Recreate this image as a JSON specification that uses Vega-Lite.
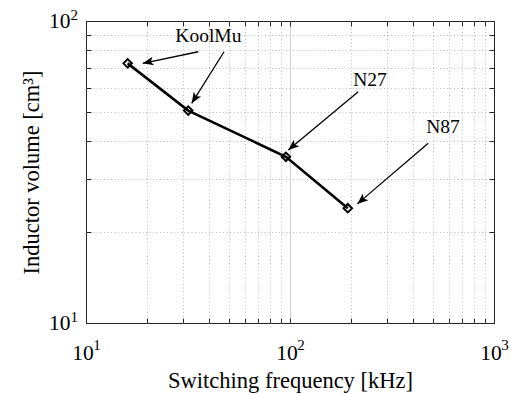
{
  "$schema": "https://vega.github.io/schema/vega-lite/v6.json",
  "width": 408,
  "height": 302,
  "autosize": "none",
  "padding": {"left": 86, "top": 21, "right": 19, "bottom": 71},
  "background": "white",
  "config": {
    "font": "Liberation Serif",
    "view": {"stroke": "#262626", "strokeWidth": 1}
  },
  "datasets": {
    "pts": [
      {"f": 16, "v": 72.4},
      {"f": 31.7, "v": 50.5},
      {"f": 95.5, "v": 35.5},
      {"f": 192, "v": 24}
    ],
    "arrows": [
      {"id": "a1", "f": 35.5, "v": 79.1, "f2": 18.97, "v2": 72.4},
      {"id": "a2", "f": 47.5, "v": 79.1, "f2": 32.96, "v2": 53.4},
      {"id": "a3", "f": 216, "v": 58.3, "f2": 98.1, "v2": 37.4},
      {"id": "a4", "f": 476, "v": 39.4, "f2": 213.8, "v2": 24.8}
    ],
    "labels": [
      {"t": "KoolMu", "f": 39.8, "v": 89.2},
      {"t": "N27", "f": 246.6, "v": 63.8},
      {"t": "N87", "f": 562, "v": 44.7}
    ],
    "xexp": [
      {"f": 10, "v": 10, "e": "1"},
      {"f": 100, "v": 10, "e": "2"},
      {"f": 1000, "v": 10, "e": "3"}
    ],
    "yexp": [
      {"f": 10, "v": 10, "e": "1"},
      {"f": 10, "v": 100, "e": "2"}
    ]
  },
  "layer": [
    {
      "data": {"name": "pts"},
      "mark": {"type": "line", "color": "black", "strokeWidth": 2.6},
      "encoding": {
        "x": {"field": "f", "type": "quantitative",
          "scale": {"type": "log", "domain": [10, 1000], "nice": false},
          "axis": {"values": [20,30,40,50,60,70,80,90,200,300,400,500,600,700,800,900], "grid": true, "gridColor": "#b8b8b8", "gridDash": [1, 2.5], "gridWidth": 1, "labels": false, "ticks": false, "domain": false, "title": null}},
        "y": {"field": "v", "type": "quantitative",
          "scale": {"type": "log", "domain": [10, 100], "nice": false},
          "axis": {"values": [20,30,40,50,60,70,80,90], "grid": true, "gridColor": "#b8b8b8", "gridDash": [1, 2.5], "gridWidth": 1, "labels": false, "ticks": false, "domain": false, "title": null}}
      }
    },
    {
      "data": {"name": "pts"},
      "mark": {"type": "point", "shape": "diamond", "filled": false, "color": "black", "strokeWidth": 2, "size": 72, "opacity": 1},
      "encoding": {
        "x": {"field": "f", "type": "quantitative",
          "axis": {"values": [100], "grid": true, "gridColor": "#d0d0d0", "gridWidth": 1, "labels": false, "ticks": false, "domain": false, "title": null}},
        "y": {"field": "v", "type": "quantitative",
          "axis": {"orient": "left", "values": [10,20,30,40,50,60,70,80,90,100], "grid": false, "labels": false, "ticks": true, "tickSize": -5, "tickColor": "#262626", "domain": false, "title": null}}
      }
    },
    {
      "data": {"name": "arrows"},
      "mark": {"type": "rule", "color": "black", "strokeWidth": 1.3},
      "encoding": {
        "x": {"field": "f", "type": "quantitative",
          "axis": {"orient": "bottom", "values": [10, 100, 1000], "grid": false, "ticks": false, "domain": false,
            "labelExpr": "'10'",
            "labelFont": "Liberation Serif", "labelFontSize": 21.5, "labelColor": "black",
            "labelAlign": "right", "labelOffset": 7.3, "labelBaseline": "alphabetic", "labelPadding": 36.5,
            "labelFlush": false, "labelOverlap": false,
            "title": "Switching frequency [kHz]", "titleFont": "Liberation Serif", "titleFontSize": 22.5, "titleFontWeight": "normal", "titleColor": "black",
            "titleBaseline": "alphabetic", "titleY": 64, "titleX": 204}},
        "y": {"field": "v", "type": "quantitative",
          "axis": {"orient": "left", "values": [10, 100], "grid": false, "ticks": false, "domain": false,
            "labelExpr": "'10'",
            "labelFont": "Liberation Serif", "labelFontSize": 21.5, "labelColor": "black", "labelPadding": 16,
            "labelFlush": false, "labelOverlap": false,
            "title": "Inductor volume [cm³]", "titleFont": "Liberation Serif", "titleFontSize": 22.5, "titleFontWeight": "normal", "titleColor": "black",
            "titleBaseline": "alphabetic", "titleX": -48, "titleY": 151, "titleAngle": 270, "titleAlign": "center"}},
        "x2": {"field": "f2"},
        "y2": {"field": "v2"}
      }
    },
    {
      "data": {"name": "labels"},
      "mark": {"type": "text", "font": "Liberation Serif", "fontSize": 19.5, "color": "black", "align": "center", "baseline": "middle"},
      "encoding": {
        "x": {"field": "f", "type": "quantitative",
          "axis": {"orient": "bottom", "values": [10,20,30,40,50,60,70,80,90,100,200,300,400,500,600,700,800,900,1000], "grid": false, "labels": false, "ticks": true, "tickSize": -5, "tickColor": "#262626", "domain": false, "title": null}},
        "y": {"field": "v", "type": "quantitative",
          "axis": {"orient": "right", "values": [10,20,30,40,50,60,70,80,90,100], "grid": false, "labels": false, "ticks": true, "tickSize": -5, "tickColor": "#262626", "domain": false, "title": null}},
        "text": {"field": "t"}
      }
    },
    {
      "data": {"name": "arrows"},
      "transform": [{"filter": "datum.id == 'a1'"}],
      "mark": {"type": "point", "shape": "M0,0L0.5,1.25L0,0.95L-0.5,1.25Z", "filled": true, "color": "black", "size": 300, "opacity": 1, "angle": 258},
      "encoding": {
        "x": {"field": "f2", "type": "quantitative",
          "axis": {"orient": "top", "values": [10,20,30,40,50,60,70,80,90,100,200,300,400,500,600,700,800,900,1000], "grid": false, "labels": false, "ticks": true, "tickSize": -5, "tickColor": "#262626", "domain": false, "title": null}},
        "y": {"field": "v2", "type": "quantitative", "axis": null}
      }
    },
    {
      "data": {"name": "arrows"},
      "transform": [{"filter": "datum.id == 'a2'"}],
      "mark": {"type": "point", "shape": "M0,0L0.5,1.25L0,0.95L-0.5,1.25Z", "filled": true, "color": "black", "size": 300, "opacity": 1, "angle": 212},
      "encoding": {
        "x": {"field": "f2", "type": "quantitative", "axis": null},
        "y": {"field": "v2", "type": "quantitative", "axis": null}
      }
    },
    {
      "data": {"name": "arrows"},
      "transform": [{"filter": "datum.id == 'a3'"}],
      "mark": {"type": "point", "shape": "M0,0L0.5,1.25L0,0.95L-0.5,1.25Z", "filled": true, "color": "black", "size": 300, "opacity": 1, "angle": 230},
      "encoding": {
        "x": {"field": "f2", "type": "quantitative", "axis": null},
        "y": {"field": "v2", "type": "quantitative", "axis": null}
      }
    },
    {
      "data": {"name": "arrows"},
      "transform": [{"filter": "datum.id == 'a4'"}],
      "mark": {"type": "point", "shape": "M0,0L0.5,1.25L0,0.95L-0.5,1.25Z", "filled": true, "color": "black", "size": 300, "opacity": 1, "angle": 229.5},
      "encoding": {
        "x": {"field": "f2", "type": "quantitative", "axis": null},
        "y": {"field": "v2", "type": "quantitative", "axis": null}
      }
    },
    {
      "data": {"name": "xexp"},
      "mark": {"type": "text", "font": "Liberation Serif", "fontSize": 15, "color": "black", "align": "left", "baseline": "alphabetic", "dx": 7.3, "dy": 27},
      "encoding": {
        "x": {"field": "f", "type": "quantitative", "axis": null},
        "y": {"field": "v", "type": "quantitative", "axis": null},
        "text": {"field": "e"}
      }
    },
    {
      "data": {"name": "yexp"},
      "mark": {"type": "text", "font": "Liberation Serif", "fontSize": 15, "color": "black", "align": "left", "baseline": "alphabetic", "dx": -15.5, "dy": -1},
      "encoding": {
        "x": {"field": "f", "type": "quantitative", "axis": null},
        "y": {"field": "v", "type": "quantitative", "axis": null},
        "text": {"field": "e"}
      }
    }
  ],
  "resolve": {"axis": {"x": "independent", "y": "independent"}}
}
